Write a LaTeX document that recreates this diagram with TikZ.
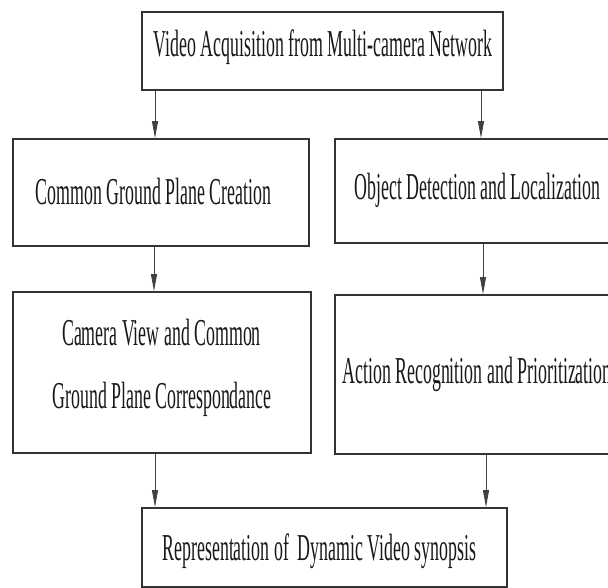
\documentclass[tikz,border=0pt]{standalone}
\usepackage{fontspec}
\setmainfont{Liberation Serif}[FakeStretch=0.47]
\usetikzlibrary{arrows.meta}

\tikzset{
  stagebox/.style={draw=black!80, line width=1.8pt, fill=white, rectangle, inner sep=0pt},
  stagetext/.style={anchor=base, inner sep=0pt, text=black!90,
                    font=\fontsize{38}{45}\selectfont},
  flow/.style={draw=black!75, line width=0.8pt,
               -{Triangle[length=17pt,width=6pt]}},
}

\begin{document}
\begin{tikzpicture}[x=1pt,y=-1pt]
  \useasboundingbox (0,0) rectangle (608,588);
  \clip (0,0) rectangle (608,588);

  % stage boxes
  \node[stagebox, minimum width=361pt, minimum height=78pt]  (top) at (322.5,51)   {};
  \node[stagebox, minimum width=296pt, minimum height=107pt] (cg)  at (161,192.5)  {};
  \node[stagebox, minimum width=286pt, minimum height=104pt] (od)  at (478,191)    {};
  \node[stagebox, minimum width=298pt, minimum height=161pt] (cv)  at (162,372.5)  {};
  \node[stagebox, minimum width=286pt, minimum height=159pt] (ar)  at (478,374.5)  {};
  \node[stagebox, minimum width=365pt, minimum height=79pt]  (rep) at (324.5,547.5){};

  % box labels
  \node[stagetext] (topT) at (323,57)    {Video Acquisition from Multi-camera Network};
  \node[stagetext] (cgT)  at (153.5,205) {Common Ground Plane Creation};
  \node[stagetext] (odT)  at (477.5,200) {Object Detection and Localization};
  \node[stagetext] (cvT1) at (161.5,345) {Camera View and Common};
  \node[stagetext] (cvT2) at (162,408)   {Ground Plane Correspondance};
  \node[stagetext] (arT)  at (477,383)   {Action Recognition and Prioritization};
  \node[stagetext] (repT) at (319.5,560) {Representation of\ \ Dynamic Video synopsis};

  % connector columns
  \coordinate (xa) at (155,0);
  \coordinate (xb) at (481,0);
  \coordinate (xc) at (154,0);
  \coordinate (xd) at (483,0);
  \coordinate (xe) at (155,0);
  \coordinate (xf) at (486,0);

  % connectors
  \draw[flow] (top.south -| xa) -- (cg.north -| xa);
  \draw[flow] (top.south -| xb) -- (od.north -| xb);
  \draw[flow] (cg.south -| xc)  -- (cv.north -| xc);
  \draw[flow] (od.south -| xd)  -- (ar.north -| xd);
  \draw[flow] (cv.south -| xe)  -- (rep.north -| xe);
  \draw[flow] (ar.south -| xf)  -- (rep.north -| xf);
\end{tikzpicture}
\end{document}
